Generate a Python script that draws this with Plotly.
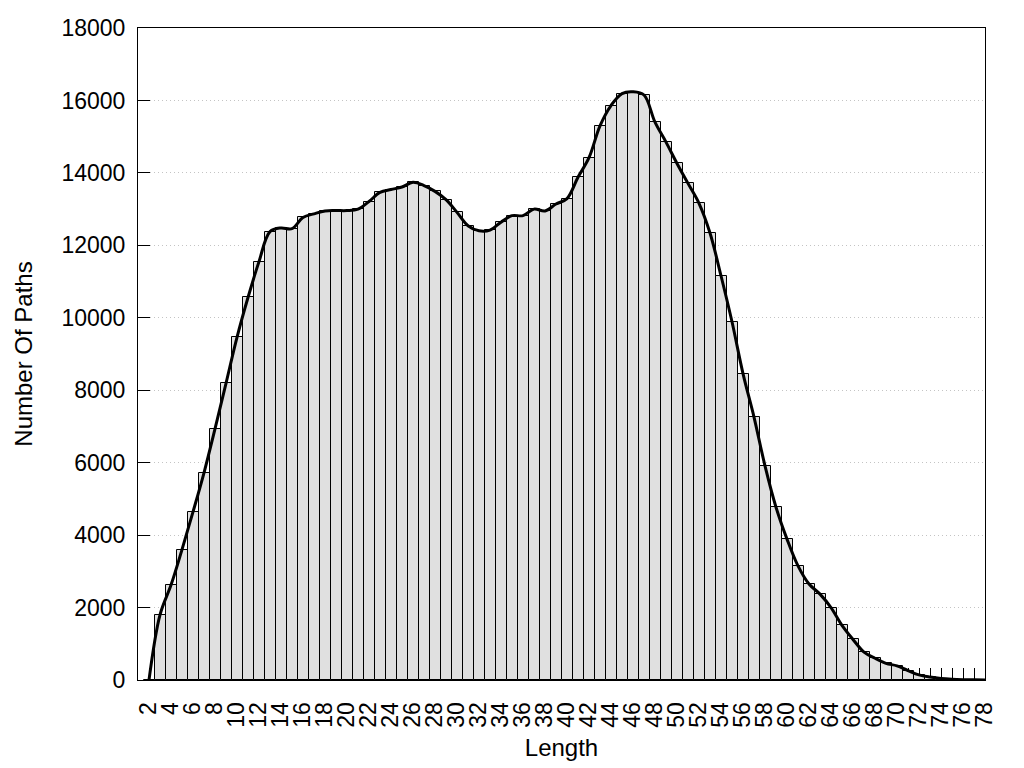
import plotly.graph_objects as go

# Path lengths (x categories)
lengths = list(range(2, 79))

# Number of paths for each length
path_counts = [
    0, 1800, 2620, 3600, 4640, 5720, 6930, 8190, 9460, 10560,              # 2-11
    11550, 12380, 12480, 12460, 12770, 12870, 12950, 12960, 12960, 13000,  # 12-21
    13210, 13460, 13540, 13610, 13740, 13650, 13490, 13260, 12910, 12540,  # 22-31
    12400, 12420, 12640, 12820, 12820, 13000, 12950, 13140, 13290, 13880,  # 32-41
    14420, 15300, 15860, 16190, 16240, 16150, 15400, 14850, 14260, 13710,  # 42-51
    13160, 12340, 11160, 9890, 8460, 7260, 5910, 4770, 3890, 3150,         # 52-61
    2650, 2370, 2000, 1510, 1120, 770, 600, 460, 390, 260,                 # 62-71
    140, 80, 40, 20, 10, 5, 0,                                              # 72-78
]

# Axis tick labels
x_tick_vals = list(range(2, 79, 2))
x_tick_text = [str(v) for v in x_tick_vals]
y_tick_vals = list(range(0, 18001, 2000))
y_tick_text = [str(v) for v in y_tick_vals]

FONT = "Liberation Sans, Arial, sans-serif"

fig = go.Figure()

fig.add_trace(go.Bar(
    x=lengths,
    y=path_counts,
    width=1.0,
    marker=dict(color="#e0e0e0", line=dict(color="black", width=1)),
    showlegend=False,
))

fig.add_trace(go.Scatter(
    x=lengths,
    y=path_counts,
    mode="lines",
    line=dict(color="black", width=3, shape="spline", smoothing=1.0),
    showlegend=False,
))

fig.update_layout(
    width=1024,
    height=768,
    margin=dict(l=138, r=39, t=28, b=88, pad=0, autoexpand=False),
    paper_bgcolor="white",
    plot_bgcolor="white",
    bargap=0,
    font=dict(family=FONT, size=23, color="black"),
    xaxis=dict(
        range=[1, 78],
        tickmode="array",
        tickvals=x_tick_vals,
        ticktext=x_tick_text,
        tickangle=-90,
        ticks="inside",
        ticklen=12,
        tickwidth=1,
        tickcolor="black",
        minor=dict(dtick=1, tick0=1, ticks="inside", ticklen=12, tickwidth=1,
                   tickcolor="black", showgrid=False),
        showgrid=False,
        zeroline=False,
        showline=True,
        linecolor="black",
        linewidth=1,
        mirror=True,
        layer="below traces",
        automargin=False,
        ticklabelstandoff=12,
        tickfont=dict(family=FONT, size=23),
        title=dict(text="Length", font=dict(family=FONT, size=24), standoff=12),
    ),
    yaxis=dict(
        range=[0, 18000],
        tickmode="array",
        tickvals=y_tick_vals,
        ticktext=y_tick_text,
        ticks="inside",
        ticklen=12,
        tickwidth=1,
        tickcolor="black",
        showgrid=True,
        gridcolor="#c4c4c4",
        gridwidth=1,
        griddash="1px,3px",
        zeroline=False,
        showline=True,
        linecolor="black",
        linewidth=1,
        mirror=True,
        layer="below traces",
        automargin=False,
        ticklabelstandoff=7,
        tickfont=dict(family=FONT, size=23),
        title=dict(text="Number Of Paths", font=dict(family=FONT, size=24), standoff=22),
    ),
)

fig.write_html(
    "out.html",
    config={"displayModeBar": False},
    post_script="document.body.style.margin='0px';document.body.style.overflow='hidden';",
)
